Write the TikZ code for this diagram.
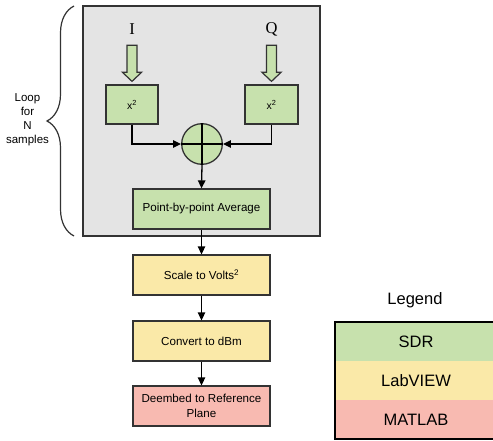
\documentclass[tikz,border=0pt]{standalone}
\usepackage{fontspec}
\setmainfont{Liberation Sans}
\newfontfamily\serifIQ{Liberation Serif}
\usetikzlibrary{arrows.meta,decorations.pathreplacing}
\definecolor{sdrgreen}{HTML}{C7E1AD}
\definecolor{lvyellow}{HTML}{FAE9A8}
\definecolor{mlred}{HTML}{F8BAB1}
\definecolor{loopgray}{HTML}{E4E4E4}
\definecolor{edge}{HTML}{333333}
\tikzset{
  box/.style={draw=edge, line width=1.3pt, inner sep=0pt, align=center,
    font=\fontsize{11.6}{14.5}\selectfont},
  greenbox/.style={box, fill=sdrgreen},
  yellowbox/.style={box, fill=lvyellow, minimum width=137pt, minimum height=40pt},
  redbox/.style={box, fill=mlred, minimum width=137pt, minimum height=40pt},
  arr/.style={draw=black, line width=1.3pt, -{Triangle[length=8pt,width=7.5pt]}},
  blockarrow/.style={draw=edge, line width=1.2pt, fill=sdrgreen, line join=miter},
  iqlabel/.style={font=\serifIQ\fontsize{16.5}{18}\selectfont, inner sep=0pt},
  legendrow/.style={minimum width=162pt, minimum height=39pt, inner sep=0pt,
    font=\fontsize{16.5}{18}\selectfont}
}
\begin{document}
\begin{tikzpicture}[x=1pt,y=-1pt]
\useasboundingbox (0,0) rectangle (493,441);
\clip (0,0) rectangle (493,441);

% loop region
\node[box, fill=loopgray, minimum width=237pt, minimum height=230pt] (loop) at (201.5,121) {};

\node[iqlabel] (labI) at (132,29) {I};
\node[iqlabel] (labQ) at (271.5,29) {Q};

\node[greenbox, minimum width=52pt, minimum height=39pt, font=\fontsize{10.5}{12}\selectfont] (xI) at (132,104.5) {x\textsuperscript{2}};
\node[greenbox, minimum width=53pt, minimum height=39pt, font=\fontsize{10.5}{12}\selectfont] (xQ) at (271.5,104.5) {x\textsuperscript{2}};

% block arrows into the squaring boxes
\draw[blockarrow, shift={(xI.north)}] (-5,-39) -- (5,-39) -- (5,-12) -- (9.5,-12) -- (0,-3) -- (-9.5,-12) -- (-5,-12) -- cycle;
\draw[blockarrow, shift={(xQ.north)}] (-5,-39) -- (5,-39) -- (5,-12) -- (9.5,-12) -- (0,-3) -- (-9.5,-12) -- (-5,-12) -- cycle;

% summing junction
\node[draw=edge, line width=1.3pt, fill=sdrgreen, circle, minimum size=40.6pt, inner sep=0pt] (sum) at (202,144) {};
\draw[black, line width=1.3pt] (sum.north) -- (sum.south);
\draw[black, line width=1.3pt] (sum.west) -- (sum.east);

\node[greenbox, minimum width=137pt, minimum height=40pt] (avg) at (201.5,209) {Point-by-point Average};

\node[yellowbox] (scale) at (201.5,275) {Scale to Volts\textsuperscript{2}};
\node[yellowbox] (conv) at (201.5,341) {Convert to dBm};
\node[redbox] (deemb) at (201.5,406) {Deembed to Reference\\Plane};

% connectors
\draw[arr] (xI.south) |- (sum.west);
\draw[arr] (xQ.south) |- (sum.east);
\draw[arr] (sum.south) -- (avg.north);
\draw[arr] (avg.south) -- (scale.north);
\draw[arr] (scale.south) -- (conv.north);
\draw[arr] (conv.south) -- (deemb.north);

% brace
\coordinate (bracebot) at (74,236);
\coordinate (bracetop) at (74,6);
\draw[edge, line width=1.2pt, decorate, decoration={brace, amplitude=27pt}] (bracebot) -- (bracetop);
\node[align=center, font=\fontsize{11.5}{14}\selectfont, inner sep=0pt] (looplabel) at (27.5,120) {Loop\\for\\N\\samples};

% legend
\node[font=\fontsize{16.5}{18}\selectfont, inner sep=0pt] (legendtitle) at (415,300) {Legend};
\node[legendrow, fill=sdrgreen] (lsdr) at (416,341.5) {SDR};
\node[legendrow, fill=lvyellow] (llv) at (416,380.5) {LabVIEW};
\node[legendrow, fill=mlred] (lml) at (416,419.5) {MATLAB};
\draw[black, line width=2.4pt] (lsdr.north west) rectangle (lml.south east);
\end{tikzpicture}
\end{document}
